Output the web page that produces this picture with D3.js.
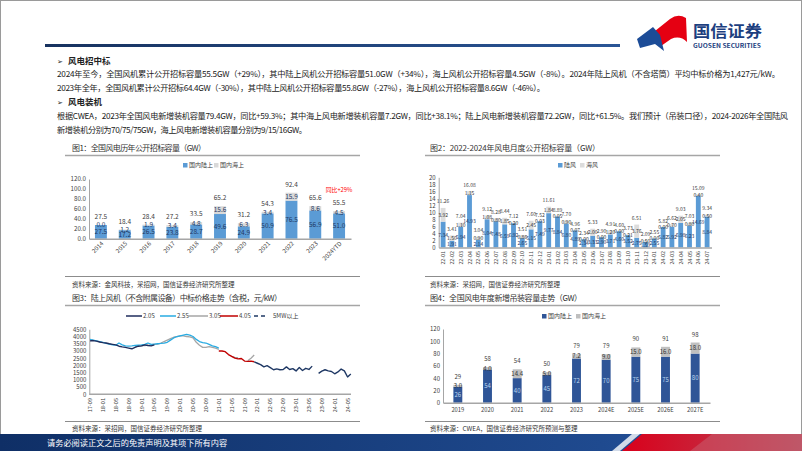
<!DOCTYPE html>
<html><head><meta charset="utf-8">
<script src="https://cdn.jsdelivr.net/npm/d3@7"></script>
<style>
body{margin:0;background:#fff;}
svg{display:block;font-family:"Noto Sans CJK SC","Noto Sans",sans-serif;}
</style></head><body>
<svg id="s" width="802" height="451"></svg>
<script>
// ---------- DATA ----------
const c1Years = ["2014","2015","2016","2017","2018","2019","2020","2021","2022","2023","2024YTD"];
const c1Onshore = [27.5,17.2,26.5,23.8,28.7,49.6,24.9,50.9,76.5,56.9,51.0];
const c1Offshore = [0.0,1.2,1.9,3.4,4.8,15.6,6.3,3.4,15.9,8.6,4.5];
const c1Total = [27.5,18.4,28.4,27.2,33.5,65.2,31.2,54.3,92.4,65.6,55.5];
const c1Ticks = [0,20,40,60,80,100,120];

const c2Months = ["22-01","22-02","22-03","22-04","22-05","22-06","22-07","22-08","22-09","22-10","22-11","22-12",
  "23-01","23-02","23-03","23-04","23-05","23-06","23-07","23-08","23-09","23-10","23-11","23-12",
  "24-01","24-02","24-03","24-04","24-05","24-06","24-07"];
const c2Onshore = [7.34,1.91,5.94,14.93,2.14,8.04,7.48,6.59,6.92,2.65,5.15,7.49,
  9.77,8.84,6.80,4.89,2.34,3.33,2.90,3.71,4.60,3.52,2.75,1.59,
  2.55,5.82,5.92,6.98,6.23,14.69,8.84];
const c2Offshore = [3.92,1.50,1.10,1.15,0.90,1.08,0.80,1.85,0.20,0.86,2.45,0.03,
  1.84,0.05,0.90,0.07,0.00,2.00,0.00,1.20,0.00,0.21,3.76,0.50,
  0.00,0.00,0.70,2.05,0.80,0.40,0.50];
const c2Total = [11.26,3.41,7.04,16.08,3.04,9.12,8.28,8.44,7.12,3.51,7.60,7.52,
  11.61,8.89,7.70,4.96,2.34,5.33,2.90,4.91,4.60,3.73,6.51,2.09,
  2.55,5.82,6.62,9.03,7.03,15.09,9.34];
const c2Ticks = [0,2,4,6,8,10,12,14,16,18,20];

const c3TickLabels = ["17-09","18-01","18-05","18-09","19-01","19-05","19-09","20-01","20-05","20-09",
  "21-01","21-05","21-09","22-01","22-05","22-09","23-01","23-05","23-09","24-01","24-05"];
const c3Ticks = [0,500,1000,1500,2000,2500,3000,3500,4000,4500];
// month index 0 = 2017-09
const c3S20Start = 0;
const c3S20 = [3700,3720,3680,3620,3580,3550,3500,3460,3420,3330,3280,3250,3200,3150,3250,3330,3350,3420,3380,3350,3420];
const c3S25Start = 0;
const c3S25 = [3800,3750,3700,3650,3600,3520,3480,3420,3400,3550,3420,3350,3330,3350,3380,3400,3420,3450,3550,3450,3480,
  3500,3520,3550,3600,3750,3900,4000,4050,4100,4150,4100,4000,3800,3650,3580,3550,3450,3350,3300,3200];
const c3S30Start = 14;
const c3S30 = [3300,3330,3350,3380,3400,3420,3450,3480,3550,3650,3750,3850,3950,4000,4050,4050,4000,3980,3900,3600,3400,
  3250,3250,3300,3250,3200,3100,null,null,null,2620,2560,2540,null,null,2330,2500,2720];
const c3S40Start = 40;
const c3S40 = [3000,3000,2950,2750,2620,2500,2450,2480,2300,2280,2300,2250];
const c3S5Start = 51;
const c3S5 = [2250,2150,2050,1900,1980,1850,1700,1760,1700,1720,1900,1720,1780,1620,1850,1650,1800,1720,1950,null,
  1450,1600,1700,1620,1580,1420,1550,1750,1620,1200,1400];

const c4Years = ["2019","2020","2021","2022","2023","2024E","2025E","2026E","2027E"];
const c4Onshore = [26,54,40,45,72,70,75,75,80];
const c4Offshore = [3.0,4.0,14.4,5.0,7.2,9.0,15.0,16.0,18.0];
const c4Total = [29,58,54,50,79,79,90,91,98];
const c4Ticks = [0,20,40,60,80,100,120];

// ---------- HELPERS ----------
const F = '"Noto Sans CJK SC","Noto Sans",sans-serif';
const svg = d3.select("#s");
const defs = svg.append("defs");
function T(x,y,s,o={}){
  const t = svg.append("text").attr("x",x).attr("y",y).text(s)
    .attr("font-size",o.size||8).attr("fill",o.fill||"#333")
    .attr("text-anchor",o.anchor||"start");
  if(o.weight) t.attr("font-weight",o.weight);
  if(o.len) t.attr("textLength",o.len).attr("lengthAdjust",o.adj||"spacing");
  return t;
}
function L(x1,y1,x2,y2,c,w){ return svg.append("line").attr("x1",x1).attr("y1",y1).attr("x2",x2).attr("y2",y2).attr("stroke",c).attr("stroke-width",w); }
function yAxis(scale,x,ticks,fmt,size){
  const g = svg.append("g").attr("transform",`translate(${x},0)`)
    .call(d3.axisLeft(scale).tickValues(ticks).tickFormat(fmt).tickSize(0).tickPadding(3));
  g.select(".domain").attr("stroke","#a6a6a6").attr("stroke-width",1);
  g.selectAll("text").attr("font-size",size).attr("fill","#404040").attr("font-family",F);
  return g;
}
function xAxisLine(scale,y){
  const g = svg.append("g").attr("transform",`translate(0,${y})`)
    .call(d3.axisBottom(scale).tickSize(0).tickFormat(""));
  g.select(".domain").attr("stroke","#a6a6a6").attr("stroke-width",1.5);
  return g;
}
function legendSq(x,y,c,label,size){
  svg.append("rect").attr("x",x).attr("y",y-4).attr("width",4.5).attr("height",4.5).attr("fill",c);
  T(x+6,y,label,{size:size||6,fill:"#404040"});
}

// ---------- FRAME / HEADER ----------
svg.append("rect").attr("x",0.5).attr("y",0.5).attr("width",801).attr("height",450).attr("fill","none").attr("stroke","#9a9a9a");
const hg = defs.append("linearGradient").attr("id","hg");
hg.append("stop").attr("offset","0").attr("stop-color","#17325f");
hg.append("stop").attr("offset","1").attr("stop-color","#2a5596");
svg.append("rect").attr("x",45).attr("y",44).attr("width",575).attr("height",3).attr("fill","url(#hg)");
// logo
svg.append("path").attr("d","M655,31 L670,19 Q678,13 686,18 L687,42 Q680,35 671,39 L661,46 Z").attr("fill","#e50012");
svg.append("path").attr("d","M637,39 L653,27 L660,35 L664,51 L655,44 L640,48 Z").attr("fill","#1c4c97");
T(693,37,"国信证券",{size:16,fill:"#1d3f7f",weight:"bold",len:69,adj:"spacingAndGlyphs"});
T(693,48,"GUOSEN SECURITIES",{size:6,fill:"#1d3f7f",weight:"bold",len:68,adj:"spacingAndGlyphs"});

// paragraphs
T(57,64,"➢",{size:7,fill:"#222"});
T(68,64,"风电招中标",{size:8.5,fill:"#222",weight:"bold"});
T(57,77,"2024年至今，全国风机累计公开招标容量55.5GW（+29%），其中陆上风机公开招标容量51.0GW（+34%），海上风机公开招标容量4.5GW（-8%）。2024年陆上风机（不含塔筒）平均中标价格为1,427元/kW。",{size:8.2,fill:"#222",len:723});
T(57,91,"2023年全年，全国风机累计公开招标64.4GW（-30%），其中陆上风机公开招标容量55.8GW（-27%），海上风机公开招标容量8.6GW（-46%）。",{size:8.2,fill:"#222",len:488});
T(57,105,"➢",{size:7,fill:"#222"});
T(68,105,"风电装机",{size:8.5,fill:"#222",weight:"bold"});
T(57,119,"根据CWEA，2023年全国风电新增装机容量79.4GW，同比+59.3%；其中海上风电新增装机容量7.2GW，同比+38.1%；陆上风电新增装机容量72.2GW，同比+61.5%。我们预计（吊装口径），2024-2026年全国陆风",{size:8.2,fill:"#222",len:731});
T(57,133,"新增装机分别为70/75/75GW，海上风电新增装机容量分别为9/15/16GW。",{size:8.2,fill:"#222",len:250});

// chart titles / rules / sources
T(72,151,"图1：全国风电历年公开招标容量（GW）",{size:8,fill:"#333",len:134});
T(430,151,"图2：2022-2024年风电月度公开招标容量（GW）",{size:8,fill:"#333",len:170});
T(72,301,"图3：陆上风机（不含附属设备）中标价格走势（含税，元/kW）",{size:8,fill:"#333",len:210});
T(430,301,"图4：全国风电年度新增吊装容量走势（GW）",{size:8,fill:"#333",len:152});
[[65,360,155.5],[425,720,155.5],[65,360,305.5],[425,720,305.5]].forEach(d=>L(d[0],d[2],d[1],d[2],"#a6a6a6",1.5));
[[65,360,276.5],[425,720,276.5],[65,360,421.5],[425,720,421.5]].forEach(d=>L(d[0],d[2],d[1],d[2],"#8c8c8c",1.2));
T(72,287,"资料来源：金风科技，采招网，国信证券经济研究所整理",{size:6.5,fill:"#333"});
T(430,287,"资料来源：采招网，国信证券经济研究所整理",{size:6.5,fill:"#333"});
T(72,431,"资料来源：采招网，国信证券经济研究所整理",{size:6.5,fill:"#333"});
T(430,431,"资料来源：CWEA，国信证券经济研究所预测与整理",{size:6.5,fill:"#333"});

// ---------- CHART 1 ----------
{
  const x = d3.scaleBand().domain(c1Years).range([89,351]).paddingInner(0.5).paddingOuter(0.25);
  const y = d3.scaleLinear().domain([0,120]).range([238.7,179]);
  yAxis(y,89,c1Ticks,d3.format(".1f"),6.2);
  const bw = x.bandwidth();
  c1Years.forEach((k,i)=>{
    const x0 = x(k), cx = x0+bw/2;
    svg.append("rect").attr("x",x0).attr("y",y(c1Onshore[i])).attr("width",bw).attr("height",y(0)-y(c1Onshore[i])).attr("fill","#5b9bd5");
    svg.append("rect").attr("x",x0).attr("y",y(c1Onshore[i]+c1Offshore[i])).attr("width",bw).attr("height",y(0)-y(c1Offshore[i])).attr("fill","#d9d9d9");
    T(cx,(y(0)+y(c1Onshore[i]))/2+2.3,c1Onshore[i].toFixed(1),{size:6.5,fill:"#1f3864",anchor:"middle"});
    T(cx,(y(c1Onshore[i])+y(c1Onshore[i]+c1Offshore[i]))/2+2.3,c1Offshore[i].toFixed(1),{size:6.5,fill:"#1f3864",anchor:"middle"});
    T(cx,y(c1Onshore[i]+c1Offshore[i])-6,c1Total[i].toFixed(1),{size:6.5,fill:"#404040",anchor:"middle"});
    svg.append("text").attr("transform",`translate(${cx+3},${244}) rotate(-45)`).attr("text-anchor","end")
      .attr("font-size",6).attr("fill","#404040").text(k);
  });
  xAxisLine(x,238.7);
  T(x("2024YTD")+bw/2,192,"同比+29%",{size:5.8,fill:"#ff0000",anchor:"middle"});
  legendSq(183,167,"#5b9bd5","国内陆上");
  legendSq(214,167,"#d9d9d9","国内海上");
}

// ---------- CHART 2 ----------
{
  const x = d3.scaleBand().domain(c2Months).range([438.7,711.5]).paddingInner(0.45).paddingOuter(0.225);
  const y = d3.scaleLinear().domain([0,20]).range([247.4,177.3]);
  yAxis(y,438.7,c2Ticks,d3.format("d"),6);
  const bw = x.bandwidth();
  c2Months.forEach((k,i)=>{
    const x0 = x(k), cx = x0+bw/2;
    svg.append("rect").attr("x",x0).attr("y",y(c2Onshore[i])).attr("width",bw).attr("height",y(0)-y(c2Onshore[i])).attr("fill","#5b9bd5");
    svg.append("rect").attr("x",x0).attr("y",y(c2Onshore[i]+c2Offshore[i])).attr("width",bw).attr("height",y(0)-y(c2Offshore[i])).attr("fill","#dcdcdc");
    T(cx,(y(0)+y(c2Onshore[i]))/2+2,c2Onshore[i].toFixed(2),{size:5,fill:"#1f3864",anchor:"middle"});
    T(cx,(y(c2Onshore[i])+y(c2Onshore[i]+c2Offshore[i]))/2+2,c2Offshore[i].toFixed(2),{size:5,fill:"#333",anchor:"middle"});
    T(cx,y(c2Onshore[i]+c2Offshore[i])-4.5,c2Total[i].toFixed(2),{size:5,fill:"#404040",anchor:"middle"});
    svg.append("text").attr("transform",`translate(${cx+2},${251}) rotate(-90)`).attr("text-anchor","end")
      .attr("font-size",5.3).attr("fill","#404040").text(k);
  });
  xAxisLine(x,247.4);
  legendSq(558,167,"#5b9bd5","陆风");
  legendSq(580,167,"#dcdcdc","海风");
}

// ---------- CHART 3 ----------
{
  const x = d3.scaleLinear().domain([0,81]).range([90,350.8]);
  const y = d3.scaleLinear().domain([0,4500]).range([394.3,329.3]);
  yAxis(y,89.3,c3Ticks,d3.format("d"),6);
  L(89.3,394.3,351,394.3,"#a6a6a6",1.5);
  c3TickLabels.forEach((lab,i)=>{
    svg.append("text").attr("transform",`translate(${x(i*4)+2},${398}) rotate(-90)`).attr("text-anchor","end")
      .attr("font-size",5.6).attr("fill","#404040").text(lab);
  });
  const line = d3.line().defined(d=>d.v!==null).x(d=>x(d.m)).y(d=>y(d.v)).curve(d3.curveLinear);
  function draw(arr,start,color,w,dash){
    const pts = arr.map((v,i)=>({m:start+i,v:v}));
    const p = svg.append("path").datum(pts).attr("d",line).attr("fill","none").attr("stroke",color).attr("stroke-width",w).attr("stroke-linejoin","round");
    if(dash) p.attr("stroke-dasharray",dash);
  }
  draw(c3S30,c3S30Start,"#a6a6a6",1.3);
  draw(c3S25,c3S25Start,"#29abe2",1.3);
  draw(c3S20,c3S20Start,"#1f2d5c",1.4);
  draw(c3S40,c3S40Start,"#c00000",1.4);
  draw(c3S5,c3S5Start,"#1f3864",1.4);
  // legend
  const ly = 316;
  const items = [[126,142,"#1f2d5c","2.0S",null],[160,176,"#29abe2","2.5S",null],[188,208,"#a6a6a6","3.0S",null],[220,238,"#c00000","4.0S",null],[254,268,"#1f3864","5MW以上","4,3"]];
  items.forEach(it=>{
    const l = L(it[0],ly,it[1],ly,it[2],1.5);
    if(it[4]) l.attr("stroke-dasharray",it[4]);
    T(it[1]+(it[4]?5:1),ly+2.2,it[3],{size:6,fill:"#404040"});
  });
}

// ---------- CHART 4 ----------
{
  const x = d3.scaleBand().domain(c4Years).range([443,710]).paddingInner(0.7).paddingOuter(0.35);
  const y = d3.scaleLinear().domain([0,120]).range([402.7,329]);
  yAxis(y,443,c4Ticks,d3.format("d"),6);
  const bw = x.bandwidth();
  c4Years.forEach((k,i)=>{
    const x0 = x(k), cx = x0+bw/2;
    svg.append("rect").attr("x",x0).attr("y",y(c4Onshore[i])).attr("width",bw).attr("height",y(0)-y(c4Onshore[i])).attr("fill","#2f5597");
    svg.append("rect").attr("x",x0).attr("y",y(c4Onshore[i]+c4Offshore[i])).attr("width",bw).attr("height",y(0)-y(c4Offshore[i])).attr("fill","#bfbfbf");
    T(cx,(y(0)+y(c4Onshore[i]))/2+2.2,String(c4Onshore[i]),{size:6,fill:"#bdd7ee",anchor:"middle"});
    T(cx,(y(c4Onshore[i])+y(c4Onshore[i]+c4Offshore[i]))/2+2.2,c4Offshore[i].toFixed(1),{size:6,fill:"#333",anchor:"middle"});
    T(cx,y(c4Onshore[i]+c4Offshore[i])-6,String(c4Total[i]),{size:6,fill:"#404040",anchor:"middle"});
    T(cx,412,k,{size:5.8,fill:"#404040",anchor:"middle"});
  });
  xAxisLine(x,402.7);
  legendSq(542,318,"#2f5597","国内陆上");
  legendSq(576,318,"#bfbfbf","国内海上");
}

// ---------- FOOTER ----------
const fg = defs.append("linearGradient").attr("id","fg");
fg.append("stop").attr("offset","0").attr("stop-color","#0f2f66");
fg.append("stop").attr("offset","0.75").attr("stop-color","#1f4a8f");
fg.append("stop").attr("offset","1").attr("stop-color","#2a5aa3");
svg.append("rect").attr("x",0).attr("y",434).attr("width",802).attr("height",17).attr("fill","url(#fg)");
const rg = defs.append("linearGradient").attr("id","rg");
rg.append("stop").attr("offset","0").attr("stop-color","#d9001b");
rg.append("stop").attr("offset","1").attr("stop-color","#b8485a");
svg.append("path").attr("d","M612,451 L632,434 L640,434 L620,451 Z").attr("fill","#ffffff").attr("opacity",0.8);
svg.append("path").attr("d","M622,451 L642,434 L802,434 L802,451 Z").attr("fill","url(#rg)");
svg.append("path").attr("d","M690,451 L712,434 L802,434 L802,451 Z").attr("fill","#c86a7a").attr("opacity",0.45);
T(47,446,"请务必阅读正文之后的免责声明及其项下所有内容",{size:8.2,fill:"#ffffff"});
</script>
</body></html>
